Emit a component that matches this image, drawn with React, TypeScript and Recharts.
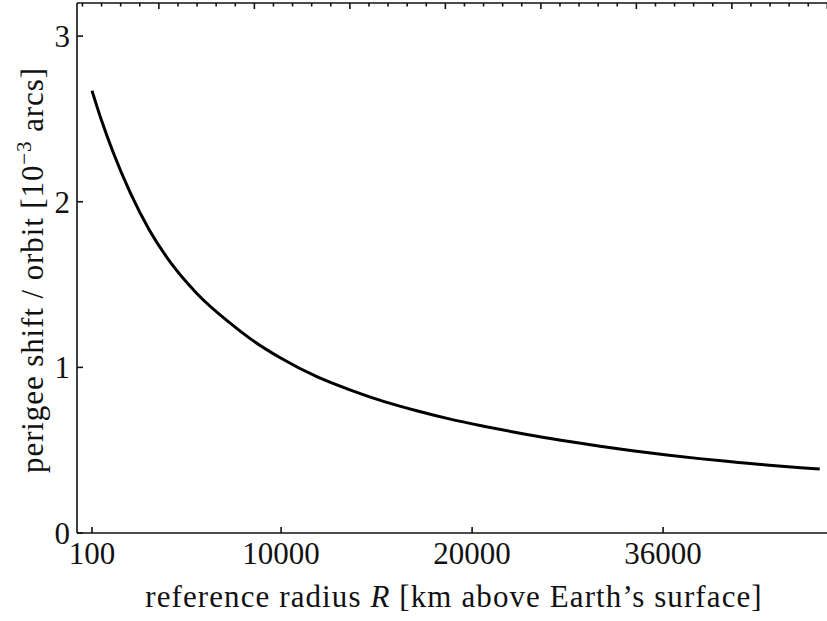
import { LineChart, Line, XAxis, YAxis, Label, ReferenceLine } from 'recharts'

// values
const radiusKm = [100, 600, 1200, 2100, 3100, 4200, 5600, 7300, 8400, 10000, 11900, 13600, 15400, 17100, 18800, 20600, 22300, 24100, 26700, 28400, 30200, 31900, 33700, 35400, 37200, 38200]
const perigeeShift = [2.67, 2.49, 2.3, 2.055, 1.83, 1.635, 1.445, 1.27, 1.172, 1.055, 0.942, 0.864, 0.793, 0.738, 0.689, 0.645, 0.607, 0.57, 0.524, 0.497, 0.471, 0.449, 0.429, 0.411, 0.394, 0.386]

const xTickValues = [100, 10000, 20000, 30000]
const xTickLabels = ['100', '10000', '20000', '36000']
const yTickValues = [0, 1, 2, 3]
const yTop = 3.2

// top spine: unlabeled major + minor ticks (km positions)
const topMajorTicks = [3600, 8600, 13600, 18600, 23600, 28600, 33600, 38600]
const topMinorTicks = [-400, 600, 1600, 2600, 4600, 5600, 6600, 7600, 9600, 10600, 11600, 12600, 14600, 15600, 16600, 17600, 19600, 20600, 21600, 22600, 24600, 25600, 26600, 27600, 29600, 30600, 31600, 32600, 34600, 35600, 36600, 37600]

const data = radiusKm.map((r, i) => ({ r, shift: perigeeShift[i] }))

const FONT = "'Liberation Serif', 'DejaVu Serif', serif"
const INK = '#111'

const BottomTick = (props: any) => {
  const { x, y, payload } = props
  const idx = xTickValues.indexOf(payload.value)
  return (
    <text x={x} y={y + 31} textAnchor="middle" fontSize={31} fontFamily={FONT} fill={INK}>
      {xTickLabels[idx]}
    </text>
  )
}

const LeftTick = (props: any) => {
  const { x, y, payload } = props
  return (
    <text x={x - 7} y={y + 11} textAnchor="end" fontSize={31} fontFamily={FONT} fill={INK}>
      {payload.value}
    </text>
  )
}

// inward tick marks drawn as short reference-line stubs
const topTickShape = (len: number) => (props: any) => {
  const { x1, y1, y2 } = props
  const top = Math.min(y1, y2)
  return <path d={`M${x1},${top}V${top + len}`} stroke={INK} strokeWidth={1.6} fill="none" />
}
const bottomTickShape = (props: any) => {
  const { x1, y1, y2 } = props
  const bottom = Math.max(y1, y2)
  return <path d={`M${x1},${bottom}V${bottom - 6}`} stroke={INK} strokeWidth={1.6} fill="none" />
}
const leftTickShape = (props: any) => {
  const { x1, x2, y1 } = props
  const left = Math.min(x1, x2)
  return <path d={`M${left},${y1}H${left + 6}`} stroke={INK} strokeWidth={1.6} fill="none" />
}

const YLabel = () => (
  <text
    x={43}
    y={270}
    transform="rotate(-90, 43, 270)"
    textAnchor="middle"
    fontSize={31}
    letterSpacing={0.9}
    fontFamily={FONT}
    fill={INK}
  >
    perigee shift / orbit [10
    <tspan fontSize={21} dy={-12}>−3</tspan>
    <tspan dy={12}> arcs]</tspan>
  </text>
)

const XLabel = () => (
  <text x={454} y={607} textAnchor="middle" fontSize={31} letterSpacing={1.1} fontFamily={FONT} fill={INK}>
    reference radius <tspan fontStyle="italic">R</tspan> [km above Earth’s surface]
  </text>
)

export default function App() {
  return (
    <div style={{ position: 'absolute', left: 0, top: 0, width: 827, height: 621, overflow: 'hidden', background: '#fff' }}>
      <LineChart width={860} height={621} data={data} margin={{ top: 3, right: 20, bottom: 0, left: 0 }}>
        <XAxis
          xAxisId="bottom"
          dataKey="r"
          type="number"
          domain={[-686, 39262]}
          allowDataOverflow
          ticks={xTickValues}
          interval={0}
          tick={<BottomTick />}
          tickLine={false}
          tickSize={0}
          tickMargin={0}
          height={88}
          axisLine={{ stroke: INK, strokeWidth: 1.6 }}
        >
          <Label content={<XLabel />} />
        </XAxis>
        <YAxis
          type="number"
          domain={[0, yTop]}
          allowDataOverflow
          ticks={yTickValues}
          interval={0}
          tick={<LeftTick />}
          tickLine={false}
          tickSize={0}
          tickMargin={0}
          width={77}
          axisLine={{ stroke: INK, strokeWidth: 1.6 }}
        >
          <Label content={<YLabel />} />
        </YAxis>
        <ReferenceLine xAxisId="bottom" y={yTop} stroke={INK} strokeWidth={1.6} />
        {topMinorTicks.map((t) => (
          <ReferenceLine key={`mi${t}`} xAxisId="bottom" x={t} shape={topTickShape(3.5)} />
        ))}
        {topMajorTicks.map((t) => (
          <ReferenceLine key={`ma${t}`} xAxisId="bottom" x={t} shape={topTickShape(6)} />
        ))}
        {xTickValues.map((t) => (
          <ReferenceLine key={`bx${t}`} xAxisId="bottom" x={t} shape={bottomTickShape} />
        ))}
        {yTickValues.map((t) => (
          <ReferenceLine key={`ly${t}`} xAxisId="bottom" y={t} shape={leftTickShape} />
        ))}
        <Line
          xAxisId="bottom"
          type="monotone"
          dataKey="shift"
          stroke="#000"
          strokeWidth={3}
          dot={false}
          activeDot={false}
          isAnimationActive={false}
        />
      </LineChart>
    </div>
  )
}
